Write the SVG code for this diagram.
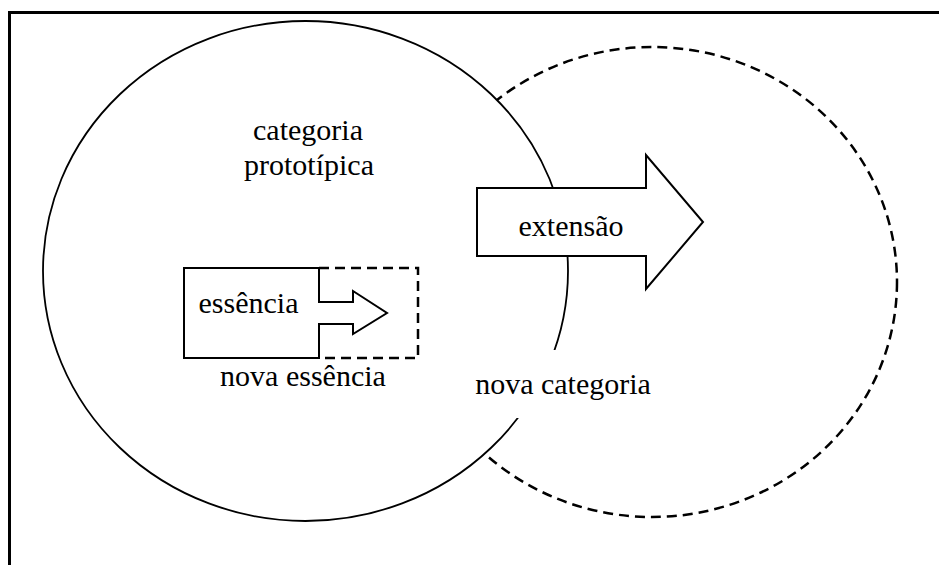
<svg xmlns="http://www.w3.org/2000/svg" width="939" height="565" viewBox="0 0 939 565">
<style>
.t{font-family:"Liberation Serif","Times New Roman",serif;font-size:30px;fill:#000;text-anchor:middle}
.solid{fill:#fff;stroke:#000;stroke-width:2}
.dash{fill:none;stroke:#000;stroke-width:2.5;stroke-dasharray:10 6}
</style>
<rect x="0" y="0" width="939" height="565" fill="#fff"/>
<rect x="9.5" y="12.5" width="1000" height="1000" fill="none" stroke="#000" stroke-width="3"/>
<g id="nova-categoria-circle">
<ellipse cx="652" cy="282" rx="245" ry="235" class="dash"/>
</g>
<g id="categoria-prototipica">
<ellipse cx="305.5" cy="271" rx="262.5" ry="250" fill="#fff" stroke="#000" stroke-width="1.8"/>
<text class="t" x="308" y="140">categoria</text>
<text class="t" x="309" y="175">prototípica</text>
</g>
<g id="nova-categoria-label">
<rect x="466" y="350" width="194" height="68" fill="#fff"/>
<text class="t" x="563" y="394">nova categoria</text>
</g>
<g id="connectors">
<g id="extensao-arrow">
<path class="solid" d="M477,188 H646 V155 L703,222 L646,289 V256 H477 Z"/>
<text class="t" x="571" y="236">extensão</text>
</g>
<g id="essencia-arrow">
<path class="dash" d="M319,268 H418 V358 H319"/>
<path class="solid" d="M184,268 H319 V302 H353 V291 L387,313 L353,334 V324 H319 V358 H184 Z"/>
</g>
</g>
<g id="essencia">
<text class="t" x="248.5" y="313">essência</text>
</g>
<g id="nova-essencia">
<text class="t" x="303" y="386">nova essência</text>
</g>
</svg>
